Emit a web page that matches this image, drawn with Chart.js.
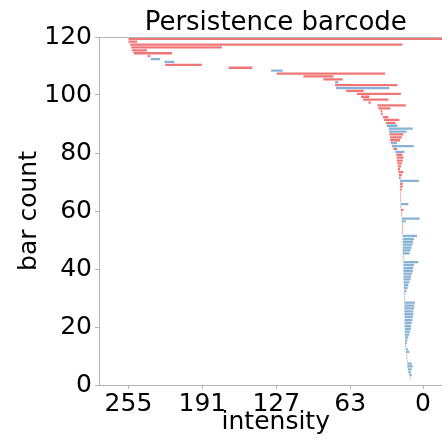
<!DOCTYPE html>
<html>
<head>
<meta charset="utf-8">
<title>Persistence barcode</title>
<script src="https://cdn.jsdelivr.net/npm/chart.js@4.4.1/dist/chart.umd.min.js"></script>
<style>
  html, body { margin: 0; padding: 0; background: #ffffff; overflow: hidden; }
  #frame { position: relative; width: 442px; height: 442px; overflow: hidden; }
  #box { position: absolute; left: 0; top: 0; width: 460px; height: 442px; }
</style>
</head>
<body>
<div id="frame"><div id="box"><canvas id="barcode"></canvas></div></div>
<script>
// One bar per persistence pair, stacked bottom to top (bar index 0..119).
// Birth and death are intensity levels (the filtration runs from 255 down to 0).
const births = [
  10.5, 11.0, 11.4, 11.9, 12.7, 13.2, 13.6, 13.6, 14.0, 14.3,
  14.4, 14.7, 15.0, 15.4, 15.6, 15.6, 15.7, 15.8, 15.8, 15.8,
  16.0, 16.0, 16.0, 16.0, 16.2, 16.2, 16.2, 16.2, 16.2, 16.2,
  16.2, 16.3, 16.4, 16.6, 16.7, 16.9, 16.9, 17.0, 17.0, 17.0,
  17.0, 17.0, 17.0, 17.3, 17.5, 17.6, 17.6, 17.6, 17.6, 17.6,
  17.6, 17.6, 18.0, 18.2, 18.2, 18.3, 18.4, 18.4, 18.9, 19.0,
  19.3, 19.4, 19.5, 19.6, 19.6, 19.7, 19.7, 19.9, 19.9, 19.9,
  19.9, 20.8, 20.8, 21.4, 21.8, 21.9, 22.2, 22.8, 22.8, 23.1,
  24.0, 25.7, 27.0, 27.9, 28.5, 28.5, 29.0, 29.4, 29.8, 31.4,
  32.0, 33.9, 34.8, 36.3, 36.8, 38.7, 39.4, 47.3, 51.9, 53.6,
  57.4, 66.6, 75.3, 76.1, 76.1, 86.3, 103.6, 126.6, 131.5, 168.4,
  223.2, 223.8, 235.7, 238.3, 250.5, 252.0, 252.6, 253.5, 255.0, 255.0
];
const deaths = [
  10.5, 11.0, 10.8, 9.8, 10.6, 9.8, 8.9, 9.8, 13.4, 13.7,
  13.8, 11.9, 13.2, 14.7, 14.1, 13.5, 12.7, 11.9, 11.2, 10.6,
  10.4, 9.8, 9.3, 8.9, 8.4, 8.4, 7.8, 7.5, 6.9, 15.6,
  15.6, 15.4, 14.3, 13.4, 12.7, 11.9, 10.8, 10.4, 9.5, 8.9,
  8.4, 7.8, 4.1, 16.8, 16.9, 11.5, 10.8, 10.0, 9.1, 8.7,
  7.8, 5.2, 17.5, 17.5, 17.6, 17.6, 15.0, 3.0, 18.3, 18.3,
  17.0, 18.9, 12.7, 19.0, 19.0, 19.2, 19.2, 18.4, 17.6, 17.6,
  3.5, 19.3, 18.4, 17.0, 19.9, 19.0, 18.4, 17.6, 17.0, 17.9,
  16.0, 22.5, 8.0, 22.5, 19.9, 18.4, 17.0, 14.1, 8.9, 22.1,
  23.8, 20.5, 30.0, 34.9, 35.3, 28.3, 14.9, 45.2, 30.0, 46.5,
  19.2, 51.4, 29.2, 22.1, 73.5, 69.6, 77.6, 32.9, 121.5, 147.7,
  191.5, 215.2, 227.5, 236.2, 217.4, 239.0, 174.2, 17.9, 247.4, -Infinity
];
// Homology dimension of each pair (0 = components, 1 = loops).
const dims = [
  1, 1, 1, 1, 1, 1, 1, 1, 1, 1,
  1, 1, 1, 1, 1, 1, 1, 1, 1, 1,
  1, 1, 1, 1, 1, 1, 1, 1, 1, 1,
  1, 1, 1, 1, 1, 1, 1, 1, 1, 1,
  1, 1, 1, 0, 0, 1, 1, 1, 1, 1,
  1, 1, 0, 0, 0, 0, 1, 1, 0, 0,
  0, 0, 1, 0, 0, 0, 0, 0, 0, 0,
  1, 0, 0, 0, 0, 0, 0, 0, 0, 0,
  1, 0, 1, 1, 0, 0, 0, 1, 1, 1,
  0, 0, 0, 0, 0, 0, 0, 0, 0, 0,
  0, 0, 1, 0, 1, 0, 0, 0, 1, 0,
  0, 1, 1, 0, 0, 0, 0, 0, 0, 0
];
const xTickValues = [255, 191, 127, 63, 0];
const yTickValues = [0, 20, 40, 60, 80, 100, 120];

// Axis range: 10% margin around the 0..255 intensity range; infinite bars run to the low end.
const intensityMax = 255;
const margin = 0.1 * intensityMax;
const axisHigh = intensityMax + margin;
const axisLow = -margin;

const dimColors = ['rgba(228, 26, 28, 0.6)', 'rgba(55, 126, 184, 0.6)'];
const barHeight = 0.8;
const spineColor = '#b3b3b3';
const fontFamily = '"DejaVu Sans", Verdana, sans-serif';

const points = births.map((b, i) => {
  const d = Number.isFinite(deaths[i]) ? deaths[i] : axisLow;
  return { x: [d, b], y: i + barHeight / 2 };
});

// Draws the top and right edges of the axes box.
const boxEdges = {
  id: 'boxEdges',
  afterDatasetsDraw(chart) {
    const { ctx, chartArea: a } = chart;
    ctx.save();
    ctx.strokeStyle = spineColor;
    ctx.lineWidth = 1;
    ctx.beginPath();
    ctx.moveTo(Math.round(a.left) + 0.5, Math.round(a.top) + 0.5);
    ctx.lineTo(Math.round(a.right) + 0.5, Math.round(a.top) + 0.5);
    ctx.lineTo(Math.round(a.right) + 0.5, Math.round(a.bottom) + 0.5);
    ctx.stroke();
    ctx.restore();
  }
};

new Chart(document.getElementById('barcode'), {
  type: 'bar',
  data: {
    datasets: [{
      data: points,
      backgroundColor: dims.map(k => dimColors[k]),
      borderWidth: 0,
      categoryPercentage: 1,
      barPercentage: barHeight
    }]
  },
  options: {
    indexAxis: 'y',
    responsive: true,
    maintainAspectRatio: false,
    animation: false,
    layout: { padding: { left: 0, right: 7.5, top: 0, bottom: 0 } },
    plugins: {
      legend: { display: false },
      tooltip: { enabled: false },
      title: {
        display: true,
        text: 'Persistence barcode',
        color: '#000',
        font: { family: fontFamily, size: 26, weight: 'normal', lineHeight: 1 },
        padding: { top: 10.6, bottom: 0.4 },
        fullSize: false
      }
    },
    scales: {
      x: {
        type: 'linear',
        reverse: true,
        offset: false,
        min: axisLow,
        max: axisHigh,
        afterBuildTicks: s => { s.ticks = xTickValues.map(v => ({ value: v })); },
        afterFit: s => { s.height = 57; },
        ticks: {
          color: '#000',
          font: { family: fontFamily, size: 25 },
          padding: 0,
          maxRotation: 0,
          autoSkip: false
        },
        grid: { display: true, offset: false, drawOnChartArea: false, drawTicks: true, tickLength: 4, color: spineColor },
        border: { display: true, color: spineColor, width: 1 },
        title: {
          display: true,
          text: 'intensity',
          color: '#000',
          font: { family: fontFamily, size: 25 },
          padding: { top: 0, bottom: 5 }
        }
      },
      y: {
        type: 'linear',
        offset: false,
        min: 0,
        max: 120,
        afterBuildTicks: s => { s.ticks = yTickValues.map(v => ({ value: v })); },
        afterFit: s => { s.width = 99; },
        ticks: {
          color: '#000',
          font: { family: fontFamily, size: 25 },
          padding: 3,
          autoSkip: false
        },
        grid: { display: true, offset: false, drawOnChartArea: false, drawTicks: true, tickLength: 4, color: spineColor },
        border: { display: true, color: spineColor, width: 1 },
        title: {
          display: true,
          text: 'bar count',
          color: '#000',
          font: { family: fontFamily, size: 25 },
          padding: { top: 14, bottom: 0 }
        }
      }
    }
  },
  plugins: [boxEdges]
});
</script>
</body>
</html>
